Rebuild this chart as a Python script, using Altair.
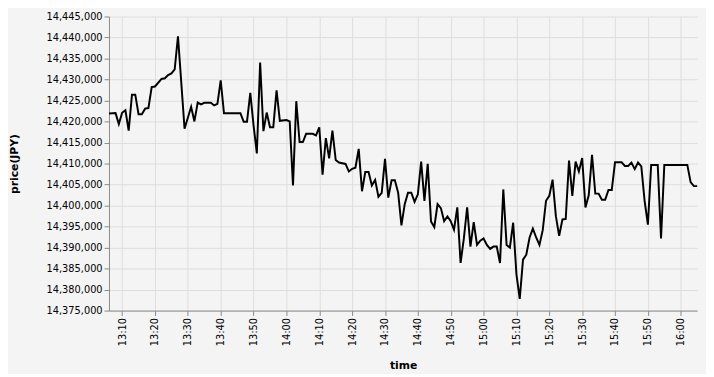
import altair as alt
import pandas as pd

# minutes after 13:00 and observed price (JPY)
minutes = [6, 8, 9, 10, 11, 12, 13, 14, 15, 16, 17, 18, 19, 20, 22, 23, 24, 25, 26, 27,
           29, 31, 32, 33, 34, 35, 37, 38, 39, 40, 41, 46, 47, 48, 49, 50, 51, 52, 53, 54,
           55, 56, 57, 58, 60, 61, 62, 63, 64, 65, 66, 68, 69, 70, 71, 72, 73, 74, 75, 76,
           78, 79, 80, 81, 82, 83, 84, 85, 86, 87, 88, 89, 90, 91, 92, 93, 94, 95, 96, 97,
           98, 99, 100, 101, 102, 103, 104, 105, 106, 107, 108, 109, 110, 111, 112, 113, 114, 115, 116, 117,
           118, 119, 120, 121, 122, 123, 124, 125, 126, 127, 128, 129, 130, 131, 132, 133, 134, 135, 136, 137,
           138, 139, 140, 141, 142, 143, 144, 145, 146, 147, 148, 149, 150, 151, 152, 153, 154, 155, 156, 157,
           158, 159, 160, 162, 163, 164, 165, 166, 167, 168, 169, 170, 171, 173, 174, 175, 182, 183, 184, 185]
prices = [14421900, 14422000, 14419400, 14422100, 14422700, 14417840, 14426400, 14426400, 14421740, 14421740,
          14423070, 14423200, 14428200, 14428340, 14430140, 14430300, 14431070, 14431470, 14432400, 14440300,
          14418300, 14423500, 14420030, 14424500, 14424070, 14424470, 14424470, 14423840, 14424230, 14429800,
          14421970, 14421970, 14419950, 14419950, 14426800, 14419100, 14412400, 14434030, 14417700, 14422130,
          14418630, 14418630, 14427400, 14420170, 14420340, 14420030, 14404780, 14424840, 14415130, 14415130,
          14417070, 14417070, 14416680, 14418630, 14407340, 14416070, 14411240, 14417840, 14410840, 14410230,
          14409910, 14408100, 14408740, 14409000, 14413500, 14403400, 14407970, 14407970, 14404800, 14406100,
          14402100, 14403000, 14411100, 14401900, 14406030, 14406030, 14403070, 14395300, 14400340, 14403070,
          14403070, 14400900, 14402670, 14410470, 14401130, 14409910, 14396230, 14394900, 14400340, 14399400,
          14396300, 14397400, 14396300, 14394270, 14399570, 14386340, 14392170, 14399570, 14390240, 14396070,
          14390630, 14391640, 14392170, 14390630, 14389700, 14390240, 14390240, 14386340, 14403840, 14390630,
          14390000, 14395910, 14383630, 14377800, 14387130, 14388300, 14392400, 14394510, 14392400, 14390630,
          14394140, 14401130, 14402300, 14406180, 14397470, 14392800, 14396700, 14396840, 14410700, 14402300,
          14410470, 14408130, 14411300, 14399570, 14402440, 14412100, 14402840, 14402840, 14401370, 14401370,
          14403700, 14403700, 14410300, 14410300, 14409440, 14409440, 14410230, 14408670, 14410230, 14409300,
          14401130, 14395440, 14409670, 14409670, 14392170, 14409670, 14409670, 14405570, 14404630, 14404630]

# x-axis tick positions: minutes after 13:00
tick_minutes = list(range(10, 181, 10))

base = pd.Timestamp("2024-01-01 13:00:00")
df = pd.DataFrame({
    "time": [(base + pd.Timedelta(minutes=m)).strftime("%Y-%m-%dT%H:%M:%S") for m in minutes],
    "price": prices,
})

tick_values = [alt.DateTime(year=2024, month=1, date=1,
                            hours=13 + m // 60, minutes=m % 60) for m in tick_minutes]

chart = alt.Chart(df).mark_line(color="black", strokeWidth=2).encode(
    x=alt.X("time:T", title="time",
            axis=alt.Axis(format="%H:%M", labelAngle=270, values=tick_values,
                          titlePadding=14)),
    y=alt.Y("price:Q", title="price(JPY)",
            scale=alt.Scale(zero=False),
            axis=alt.Axis(format=",d", tickCount=14, titlePadding=27)),
).properties(
    width=600, height=300, background="#f4f4f4",
    padding={"left": 0, "top": 0, "right": 5, "bottom": 0},
).configure(
    font="DejaVu Sans"
).configure_view(
    strokeWidth=0
)

chart.save("out.html", embed_options={"renderer": "svg", "actions": False})
